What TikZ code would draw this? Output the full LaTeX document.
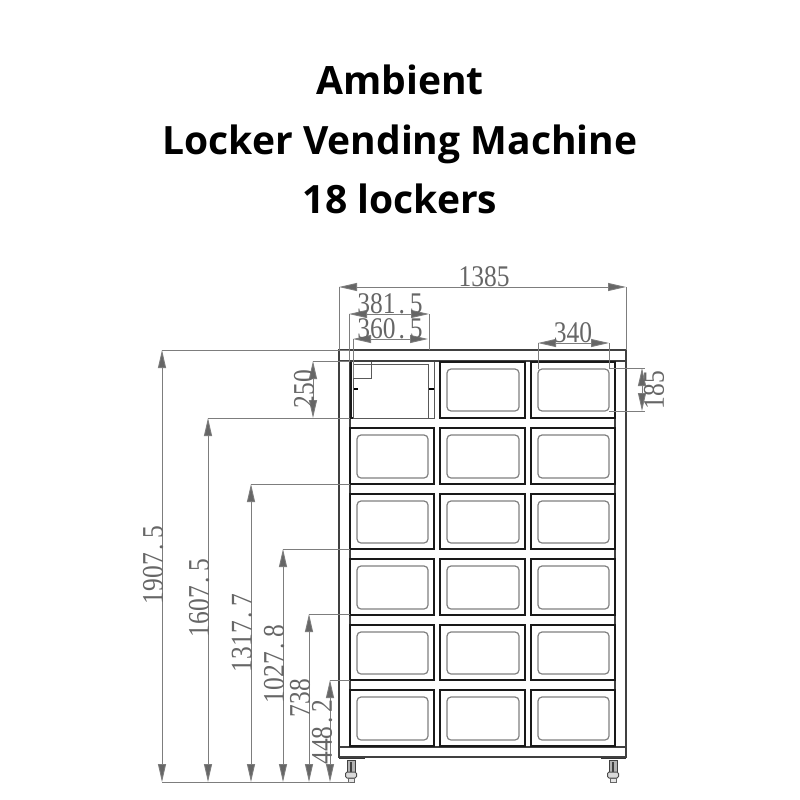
\documentclass[tikz,border=0pt]{standalone}
\usepackage{fontspec}
\usetikzlibrary{arrows.meta}
\setmainfont{Liberation Serif}
\newfontfamily\titlefont{Open Sans}[BoldFont={Open Sans Bold}]
\newfontfamily\dimfont{Liberation Serif}[FakeStretch=0.85]
\newcommand{\pd}{\kern3pt.\kern5pt}
\definecolor{dimgray}{gray}{0.40}
\definecolor{framegray}{gray}{0.25}
\tikzset{
  x=1pt,y=-1pt,
  titletext/.style={font=\titlefont\bfseries\fontsize{39}{40}\selectfont,text=black,inner sep=0pt,anchor=base},
  dimtext/.style={font=\dimfont\fontsize{30}{30}\selectfont,text=dimgray,inner sep=0pt,anchor=center},
  dimvert/.style={dimtext,rotate=90},
  dimline/.style={draw=dimgray!85,line width=0.9pt},
  dimarrow/.style={dimline,{Triangle[length=18pt,width=8pt,fill=dimgray]}-{Triangle[length=18pt,width=8pt,fill=dimgray]}},
  framel/.style={draw=framegray,line width=1.1pt},
  locker/.style={draw=black!90,line width=1.4pt},
  panel/.style={draw=black!50,line width=1.2pt,rounded corners=4pt},
  thinl/.style={draw=black!65,line width=0.9pt},
}
\begin{document}
\begin{tikzpicture}
\useasboundingbox (0,0) rectangle (800,800);
\fill[white] (0,0) rectangle (800,800);
% title
\node[titletext] (t1) at (400,94) {Ambient};
\node[titletext] (t2) at (400,154) {Locker Vending Machine};
\node[titletext] (t3) at (400,213) {18 lockers};
% frame
\draw[framel] (339,350) rectangle (626,757);
\draw[framel] (339,361) -- (626,361);
\draw[framel] (339,747) -- (626,747);
\draw[framel] (615,361) -- (615,747);
\draw[framel] (350,361) -- (350,747);
% lockers
\foreach \top/\bot in {428/484,494/549,559/615,625/680,690/746}{
  \foreach \l/\r in {350/434,440/525,531/615}{
    \draw[locker] (\l,\top) rectangle (\r,\bot);
    \draw[panel] (\l+7,\top+7) rectangle (\r-6,\bot-6);
  }
}
\foreach \l/\r in {440/525,531/615}{
  \draw[locker] (\l,362) rectangle (\r,418);
  \draw[panel] (\l+7,369) rectangle (\r-6,411);
}
% open door
\draw[locker] (351,362) -- (351,418) -- (354,418);
\draw[thinl] (353,364) -- (353,418) -- (434,418) -- (434,362);
\draw[thinl] (353,364) -- (428,364) -- (428,418);
\draw[thinl] (353,378) -- (371,378) -- (371,362);
\draw[line width=1.6pt] (354,389) -- (358,389);
\draw[line width=2.6pt] (429,389) -- (434,389);
% feet
\foreach \fx/\pl/\pr in {351/339/365,613/601/626}{
  \draw[line width=1.3pt,draw=black!80] (\pl,758.5) -- (\pr,758.5);
  \draw[line width=1pt,draw=black!75,fill=black!30] (\fx-4,760) rectangle (\fx+4,772);
  \draw[line width=1.6pt,draw=black!75] (\fx,762) -- (\fx,772);
  \draw[line width=1pt,draw=black!70,fill=black!15,rounded corners=1.5pt] (\fx-5.5,772) rectangle (\fx+5.5,778);
  \draw[line width=0.8pt,draw=black!60,fill=black!10] (\fx-3,778) rectangle (\fx+3,782);
}
% top dimensions
\coordinate (a1) at (339,287); \coordinate (a2) at (626,287);
\draw[dimline] (a1) -- (339,350) (a2) -- (626,350);
\draw[dimarrow] (a1) -- (a2);
\node[dimtext] (d1385) at (484,277) {1385};
\coordinate (b1) at (349,314); \coordinate (b2) at (429,314);
\draw[dimline] (b1) -- (349,361) (b2) -- (429,350);
\draw[dimarrow] (b1) -- (b2);
\node[dimtext] (d3815) at (390,304) {381\pd 5};
\coordinate (c1) at (353,339); \coordinate (c2) at (428,339);
\draw[dimline] (c1) -- (353,378);
\draw[dimarrow] (c1) -- (c2);
\node[dimtext] (d3605) at (390,329) {360\pd 5};
\coordinate (e1) at (538,343); \coordinate (e2) at (609,343);
\draw[dimline] (e1) -- (538,369) (e2) -- (609,369);
\draw[dimarrow] (e1) -- (e2);
\node[dimtext] (d340) at (573,333) {340};
% side dimensions
\coordinate (f1) at (642,368); \coordinate (f2) at (642,411);
\draw[dimline] (609,368) -- (645,368) (609,411) -- (645,411);
\draw[dimarrow] (f1) -- (f2);
\node[dimvert] (d185) at (654,390) {185};
\coordinate (g1) at (313,361); \coordinate (g2) at (313,418);
\draw[dimline] (g1) -- (350,361) (g2) -- (350,418);
\draw[dimarrow] (g1) -- (g2);
\node[dimvert] (d250) at (304,389) {250};
% height dimensions
\coordinate (base) at (350,782);
\draw[dimline] (162,782) -- (base);
\foreach \hx/\hy in {162/350,208/418,251/484,283/549,309/614,330/680}{
  \draw[dimline] (\hx,\hy) -- (350,\hy);
  \draw[dimarrow] (\hx,\hy) -- (\hx,782);
}
\node[dimvert] (h1) at (153,565) {1907\pd 5};
\node[dimvert] (h2) at (199,598) {1607\pd 5};
\node[dimvert] (h3) at (242,633) {1317\pd 7};
\node[dimvert] (h4) at (274,664) {1027\pd 8};
\node[dimvert] (h5) at (300,698) {738};
\node[dimvert] (h6) at (322,732) {448\pd 2};
\end{tikzpicture}
\end{document}
